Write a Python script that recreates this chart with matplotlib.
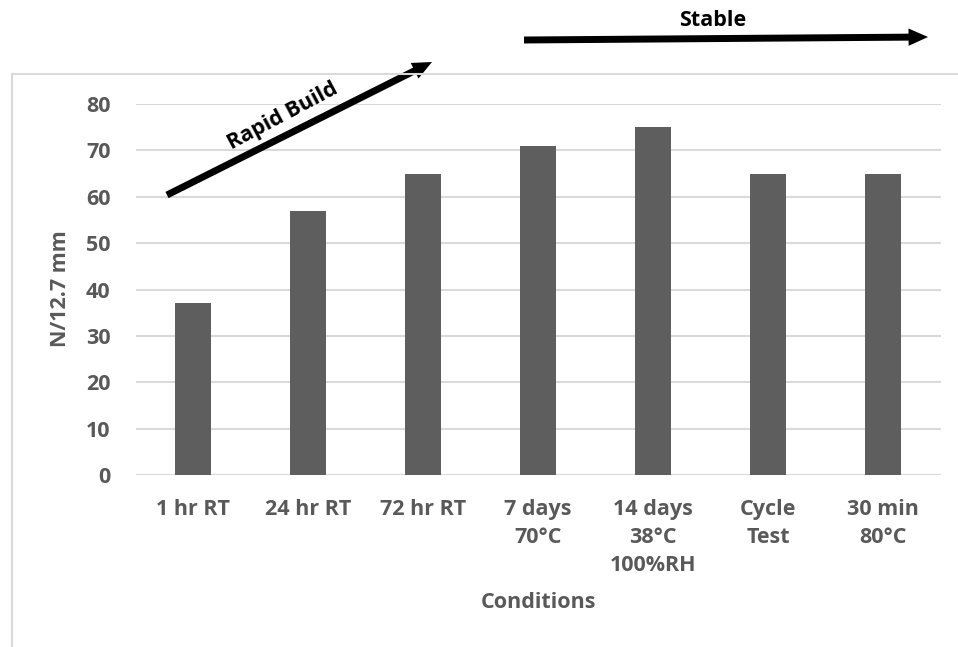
import matplotlib
matplotlib.use("Agg")
import matplotlib.pyplot as plt
from matplotlib.lines import Line2D
from matplotlib.patches import FancyArrowPatch

categories = ["1 hr RT", "24 hr RT", "72 hr RT", "7 days\n70°C",
              "14 days\n38°C\n100%RH", "Cycle\nTest", "30 min\n80°C"]
values = [37, 57, 65, 71, 75, 65, 65]
yticks = [0, 10, 20, 30, 40, 50, 60, 70, 80]

plt.rcParams['font.family'] = ['Open Sans', 'DejaVu Sans']
W, H = 958, 647
fig = plt.figure(figsize=(W/100, H/100), dpi=100)
ax = fig.add_axes([135.5/W, 1-475/H, (940.5-135.5)/W, (475-104)/H])

grey = "#595959"
fs = 15.5
ax.bar(range(len(values)), values, width=0.31, color="#5e5e5e", zorder=3)
ax.set_xlim(-0.5, len(values)-0.5)
ax.set_ylim(0, 80)
ax.set_yticks(yticks)
ax.grid(axis='y', color='#d9d9d9', linewidth=1.5, zorder=0)
for s in ax.spines.values():
    s.set_visible(False)
ax.axhline(0, color='#d9d9d9', linewidth=1.5, zorder=1)
ax.set_xticks(range(len(values)))
ax.set_xticklabels(categories, linespacing=1.45)
ax.tick_params(axis='both', length=0, labelsize=fs, labelcolor=grey)
ax.tick_params(axis='x', pad=17)
ax.tick_params(axis='y', pad=18)
for lab in ax.get_xticklabels() + ax.get_yticklabels():
    lab.set_fontweight('bold')

fig.text(60/W, 1-289/H, "N/12.7 mm", rotation=90, ha='center', va='center',
         fontsize=fs, fontweight='bold', color=grey)
fig.text(538/W, 1-603/H, "Conditions", ha='center', va='center',
         fontsize=fs, fontweight='bold', color=grey)

# frame lines
fig.add_artist(Line2D([12/W, 12/W], [0, 1-74/H], color='#d9d9d9', linewidth=1.5))
fig.add_artist(Line2D([12/W, 1], [1-74/H, 1-74/H], color='#d9d9d9', linewidth=1.5))

def fp(x, y):
    return (x/W, 1-y/H)

style = 'simple,head_length=1.4,head_width=1.25,tail_width=0.5'
for start, end in [((167, 195), (432, 62)), ((524, 40), (928, 37))]:
    fig.add_artist(FancyArrowPatch(fp(*start), fp(*end), transform=fig.transFigure,
                                   arrowstyle=style, mutation_scale=10,
                                   color='black', lw=0, shrinkA=0, shrinkB=0))
fig.text(283/W, 1-116/H, "Rapid Build", rotation=28, ha='center', va='center',
         fontsize=fs, fontweight='bold', color='black', rotation_mode='anchor')
fig.text(713/W, 1-21/H, "Stable", ha='center', va='center',
         fontsize=fs, fontweight='bold', color='black')

fig.savefig("out.png", dpi=100)
